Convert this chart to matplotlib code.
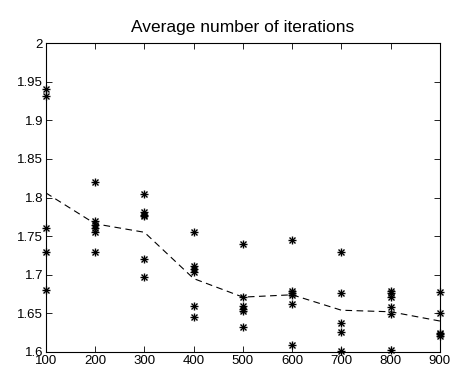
import matplotlib
matplotlib.use("Agg")
import matplotlib.pyplot as plt

plt.rcParams["font.family"] = ["Liberation Sans", "DejaVu Sans"]

# data
x_groups = [100, 200, 300, 400, 500, 600, 700, 800, 900]
y_100 = [1.940, 1.931, 1.760, 1.730, 1.680]
y_200 = [1.820, 1.770, 1.765, 1.760, 1.755, 1.730]
y_300 = [1.804, 1.781, 1.778, 1.776, 1.720, 1.697]
y_400 = [1.755, 1.711, 1.707, 1.703, 1.660, 1.645]
y_500 = [1.740, 1.671, 1.660, 1.656, 1.653, 1.632]
y_600 = [1.745, 1.679, 1.676, 1.674, 1.662, 1.609]
y_700 = [1.730, 1.676, 1.638, 1.626, 1.601]
y_800 = [1.679, 1.676, 1.671, 1.658, 1.649, 1.603]
y_900 = [1.677, 1.650, 1.625, 1.623, 1.620]
y_mean = [1.806, 1.766, 1.755, 1.695, 1.671, 1.674, 1.654, 1.652, 1.640]

samples = [y_100, y_200, y_300, y_400, y_500, y_600, y_700, y_800, y_900]

fig = plt.figure(figsize=(4.54, 3.72), dpi=100, facecolor="white")
ax = fig.add_axes([0.101, 0.054, 0.868, 0.830])

# matlab-style asterisk = plus + cross on top of each other
for xv, ys in zip(x_groups, samples):
    xs = [xv] * len(ys)
    ax.plot(xs, ys, ls="none", marker="+", ms=6, mew=1.0, color="black", clip_on=False)
    ax.plot(xs, ys, ls="none", marker="x", ms=4.5, mew=1.0, color="black", clip_on=False)

ax.plot(x_groups, y_mean, ls=(0, (6, 4)), color="black", lw=0.8)

ax.set_xlim(100, 900)
ax.set_ylim(1.6, 2.0)
ax.set_xticks(x_groups)
ax.set_yticks([1.6, 1.65, 1.7, 1.75, 1.8, 1.85, 1.9, 1.95, 2.0])
ax.set_yticklabels(["1.6", "1.65", "1.7", "1.75", "1.8", "1.85", "1.9", "1.95", "2"])
ax.tick_params(direction="in", top=True, right=True, labelsize=9.5, length=4,
               width=0.6, pad=2)
for s in ax.spines.values():
    s.set_linewidth(0.8)

ax.set_title("Average number of iterations", fontsize=12.5, pad=8)

fig.savefig("out.png", dpi=100, facecolor="white")
